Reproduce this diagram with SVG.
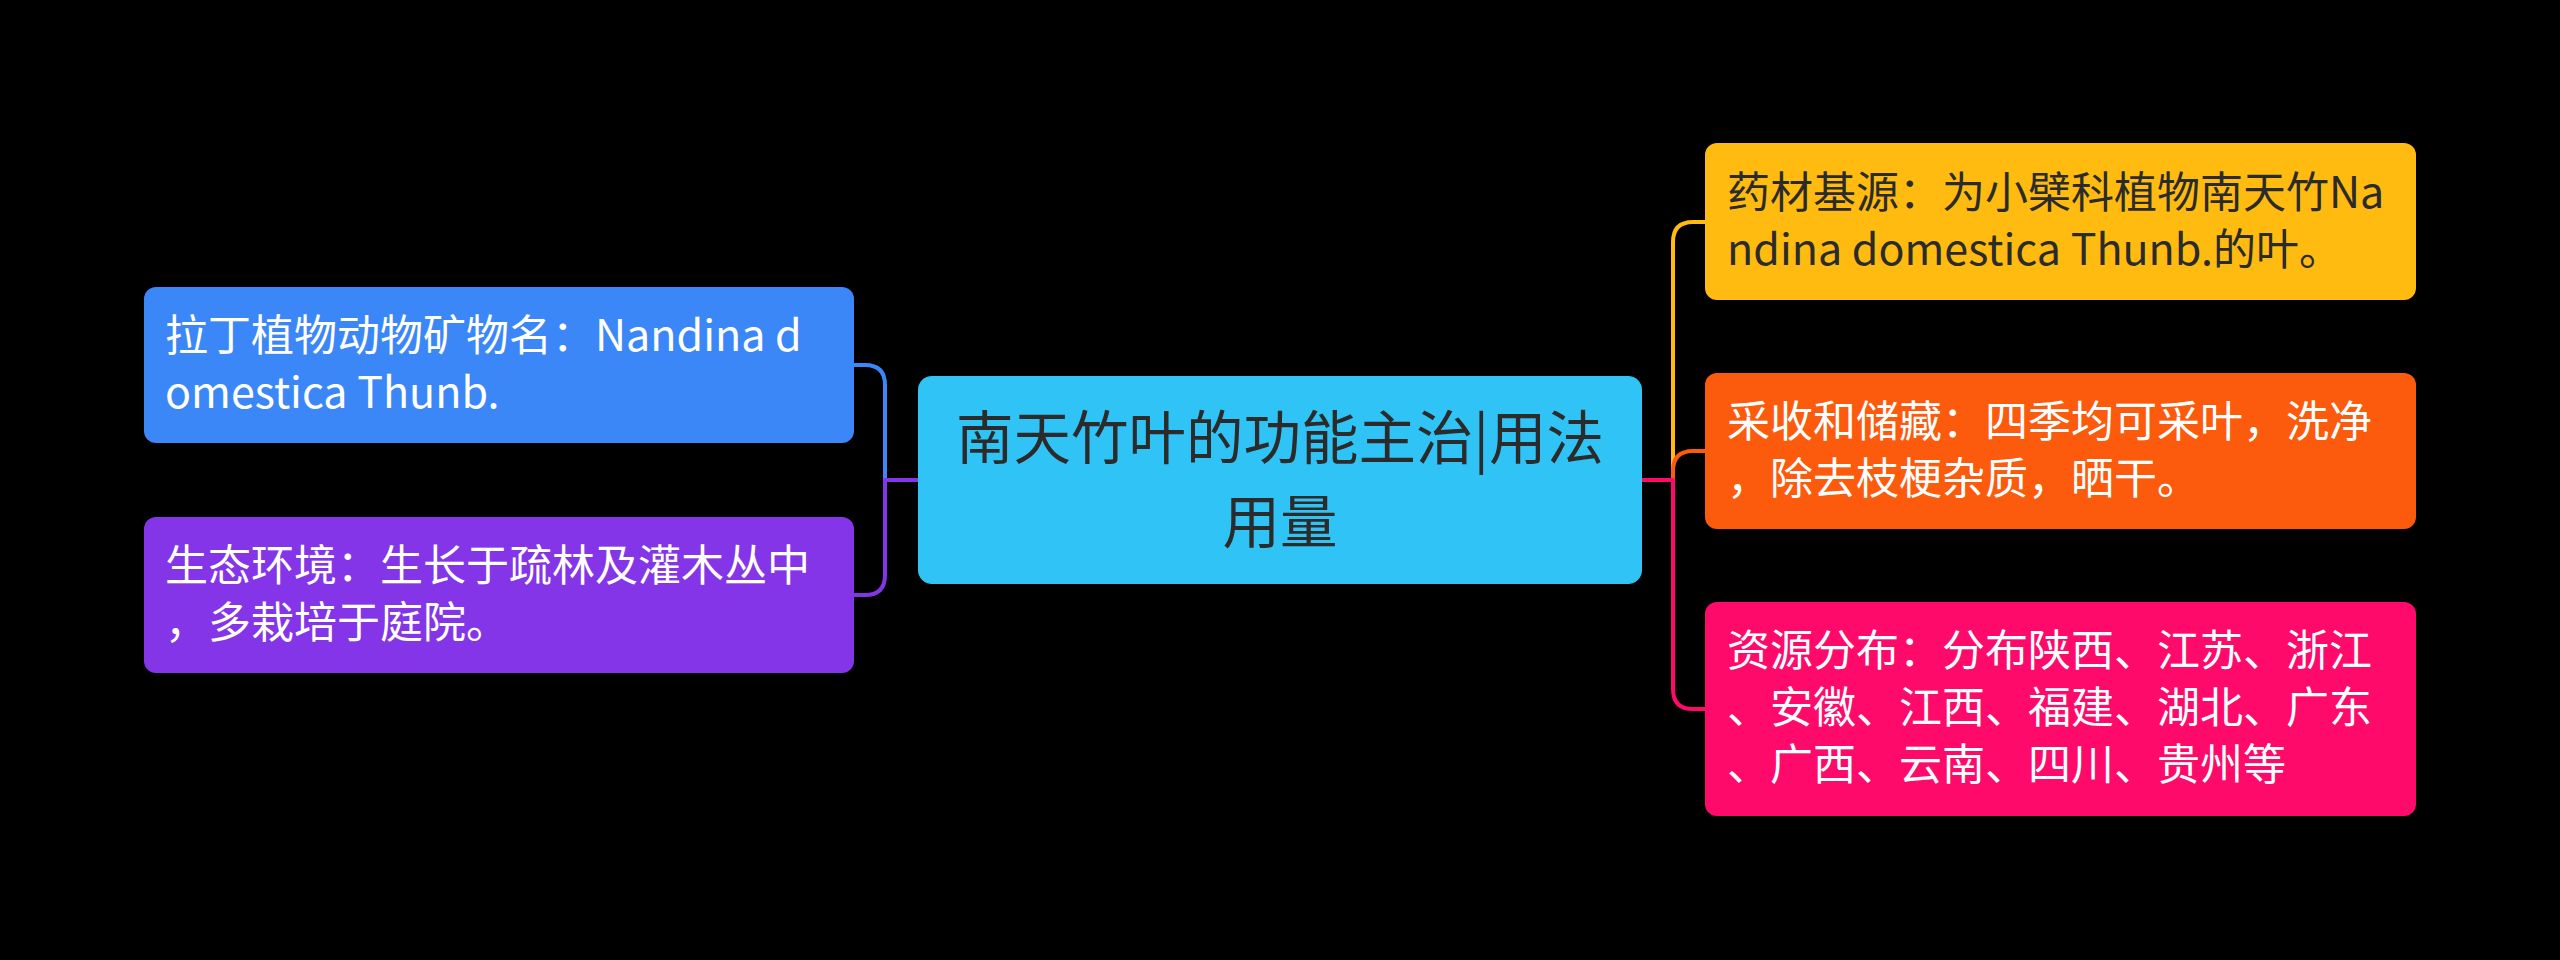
<svg xmlns="http://www.w3.org/2000/svg" width="2560" height="960" viewBox="0 0 2560 960">
<style>
  text { font-family: "Noto Sans CJK SC", "Noto Sans", sans-serif; }
  .t { font-size: 43px; }
  .w { fill: #ffffff; }
  .d { fill: #2b2b2b; }
  .c { fill: none; stroke-width: 4; stroke-linecap: round; stroke-linejoin: round; }
</style>
<rect x="0" y="0" width="2560" height="960" fill="#000000"/>
<g id="connectors">
  <path class="c" stroke="#3c87f7" d="M918 480 H885 V385 Q885 365 865 365 H854"/>
  <path class="c" stroke="#8435e8" d="M918 480 H885 V575 Q885 595 865 595 H854"/>
  <path class="c" stroke="#ffbb10" d="M1642 480 H1673 V242 Q1673 222 1693 222 H1705"/>
  <path class="c" stroke="#fc5a0c" d="M1642 480 H1673 V471 Q1673 451 1693 451 H1705"/>
  <path class="c" stroke="#fe0a6b" d="M1642 480 H1673 V689 Q1673 709 1693 709 H1705"/>
</g>
<g id="center">
  <rect x="918" y="376" width="724" height="208" rx="14" fill="#30c4f6"/>
  <text x="1280" y="459" font-size="57.5" text-anchor="middle" class="d">南天竹叶的功能主治|用法</text>
  <text x="1280" y="543" font-size="57.5" text-anchor="middle" class="d">用量</text>
</g>
<g id="n-latin">
  <rect x="144" y="287" width="710" height="156" rx="12" fill="#3c87f7"/>
  <text class="t w" x="165" y="351">拉丁植物动物矿物名：Nandina d</text>
  <text class="t w" x="165" y="408">omestica Thunb.</text>
</g>
<g id="n-env">
  <rect x="144" y="517" width="710" height="156" rx="12" fill="#8435e8"/>
  <text class="t w" x="165" y="581">生态环境：生长于疏林及灌木丛中</text>
  <text class="t w" x="165" y="638">，多栽培于庭院。</text>
</g>
<g id="n-source">
  <rect x="1705" y="143" width="711" height="157" rx="12" fill="#ffbb10"/>
  <text class="t d" x="1727" y="208">药材基源：为小檗科植物南天竹Na</text>
  <text class="t d" x="1727" y="265">ndina domestica Thunb.的叶。</text>
</g>
<g id="n-harvest">
  <rect x="1705" y="373" width="711" height="156" rx="12" fill="#fc5a0c"/>
  <text class="t w" x="1727" y="437">采收和储藏：四季均可采叶，洗净</text>
  <text class="t w" x="1727" y="494">，除去枝梗杂质，晒干。</text>
</g>
<g id="n-dist">
  <rect x="1705" y="602" width="711" height="214" rx="12" fill="#fe0a6b"/>
  <text class="t w" x="1727" y="666">资源分布：分布陕西、江苏、浙江</text>
  <text class="t w" x="1727" y="723">、安徽、江西、福建、湖北、广东</text>
  <text class="t w" x="1727" y="780">、广西、云南、四川、贵州等</text>
</g>
</svg>
